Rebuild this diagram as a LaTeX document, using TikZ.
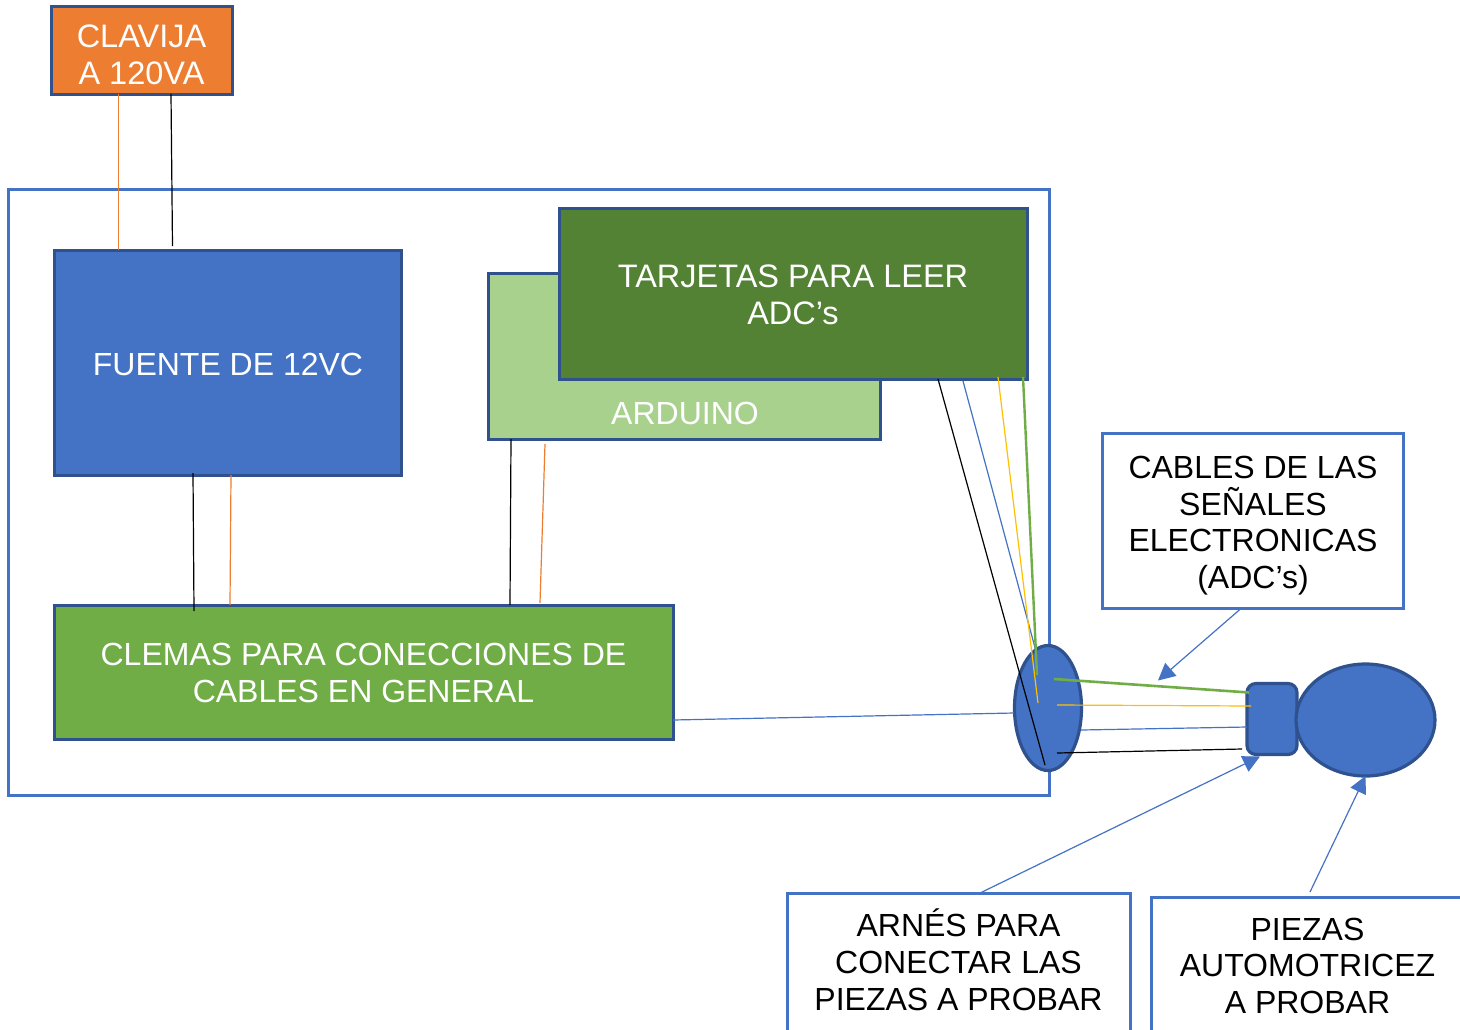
\documentclass[tikz,border=0pt]{standalone}
\usepackage{fontspec}
\setmainfont{Liberation Sans}
\usetikzlibrary{arrows.meta,shapes.geometric,calc}
\definecolor{bord}{HTML}{2F528F}
\definecolor{acc}{HTML}{4472C4}
\definecolor{orng}{HTML}{ED7D31}
\definecolor{lgreen}{HTML}{A9D18E}
\definecolor{dgreen}{HTML}{548235}
\definecolor{mgreen}{HTML}{70AD47}
\definecolor{ylw}{HTML}{FFC000}
\tikzset{
 x=1pt,y=-1pt,
 solidbox/.style={rectangle,draw=bord,line width=3pt,inner sep=0pt,outer sep=0pt},
 labelbox/.style={rectangle,draw=acc,line width=3pt,fill=white,inner sep=0pt,outer sep=0pt},
 whitetxt/.style={text=white,align=center,inner sep=0pt,font=\fontsize{32}{37}\selectfont},
 blacktxt/.style={text=black,align=center,inner sep=0pt,font=\fontsize{32}{36.7}\selectfont},
 wideface/.style={font=\fontsize{32.5}{37}\selectfont},
 shapeblue/.style={draw=bord,line width=3.2pt,fill=acc,inner sep=0pt,outer sep=0pt},
 wire/.style={line width=1.2pt},
 callout/.style={draw=acc,line width=1.2pt,-{Triangle[length=17pt,width=17pt]}},
}
\begin{document}
\begin{tikzpicture}[line join=miter]
\clip (0,0) rectangle (1460,1029);
\fill[white] (0,0) rectangle (1460,1029);
% outer frame
\node[draw=acc,line width=3pt,minimum width=1041pt,minimum height=606pt,inner sep=0pt,outer sep=0pt] (frame) at (528.5,492) {};
% boxes
\node[solidbox,fill=orng,minimum width=181pt,minimum height=88pt] (clavija) at (141.5,50) {};
\node[whitetxt,wideface] (clavijatxt) at (141.5,54.5) {CLAVIJA\\A 120VA};
\node[solidbox,fill=acc,minimum width=347pt,minimum height=225pt] (fuente) at (227.5,362.5) {};
\node[whitetxt] (fuentetxt) at (228,364) {FUENTE DE 12VC};
\node[solidbox,fill=lgreen,minimum width=392pt,minimum height=166pt] (arduino) at (684,356) {};
\node[whitetxt] (arduinotxt) at (685,413) {ARDUINO};
\node[solidbox,fill=dgreen,minimum width=468pt,minimum height=171pt] (tarjetas) at (793,293.5) {};
\node[whitetxt,wideface] (tarjetastxt) at (793,295) {TARJETAS PARA LEER\\ADC’s};
\node[solidbox,fill=mgreen,minimum width=619pt,minimum height=134pt] (clemas) at (363.5,672) {};
\node[whitetxt] (clemastxt) at (363.5,673) {CLEMAS PARA CONECCIONES DE\\CABLES EN GENERAL};
% shapes
\node[shapeblue,ellipse,minimum width=67pt,minimum height=125pt] (socket) at (1048,708) {};
\node[shapeblue,rounded corners=9pt,rectangle,minimum width=50pt,minimum height=71pt] (arnes) at (1272,719) {};
\node[shapeblue,ellipse,minimum width=139pt,minimum height=112pt] (pieza) at (1365.5,720) {};
% label boxes
\node[labelbox,minimum width=301pt,minimum height=175pt] (cables) at (1252.5,521) {};
\node[blacktxt] (cablestxt) at (1253,525.5) {CABLES DE LAS\\SEÑALES\\ELECTRONICAS\\(ADC’s)};
\node[labelbox,minimum width=343pt,minimum height=160pt,anchor=north west] (arnesbox) at (787,893) {};
\node[labelbox,minimum width=325pt,minimum height=160pt,anchor=north west] (piezasbox) at (1151,897) {};
\node[blacktxt,anchor=north] (arnestxt) at (958.5,909) {ARNÉS PARA\\CONECTAR LAS\\PIEZAS A PROBAR};
\node[blacktxt,anchor=north] (piezastxt) at (1307.5,917.5) {PIEZAS\\AUTOMOTRICEZ\\A PROBAR};
% wires
\draw[wire,orng] ([xshift=67.4pt]clavija.south west) -- ([xshift=64.4pt]fuente.north west);
\draw[wire,black] ([xshift=120pt]clavija.south west) -- ([xshift=118.5pt,yshift=4pt]fuente.north west);
\draw[wire,black] ([xshift=139pt,yshift=2pt]fuente.south west) -- ([xshift=140pt,yshift=-6pt]clemas.north west);
\draw[wire,orng] ([xshift=177pt]fuente.south west) -- ([xshift=176pt]clemas.north west);
\draw[wire,black] ([xshift=23pt]arduino.south west) -- ([xshift=456pt]clemas.north west);
\draw[wire,orng] ([xshift=57pt,yshift=-5pt]arduino.south west) -- ([xshift=486pt,yshift=2pt]clemas.north west);
\draw[wire,acc] ([yshift=19pt]clemas.south east) -- ($(socket.center)+(-34,5)$);
\draw[wire,black] ([xshift=379pt]tarjetas.south west) -- ($(socket.center)+(-3,57)$);
\draw[wire,acc] ([xshift=404pt,yshift=-2pt]tarjetas.south west) -- ($(socket.center)+(-11,-53)$);
\draw[wire,ylw] ([xshift=439pt,yshift=2pt]tarjetas.south west) -- ($(socket.center)+(-10,-5)$);
\draw[line width=2.4pt,mgreen] ([xshift=464pt,yshift=2pt]tarjetas.south west) -- ($(socket.center)+(-11,-33)$);
\draw[line width=2.6pt,mgreen] ($(socket.center)+(6,-29)$) -- ($(arnes.north west)+(2,9)$);
\draw[wire,ylw] ($(socket.center)+(9,-3)$) -- ($(arnes.west)+(4,-13)$);
\draw[wire,acc] ($(socket.center)+(33,22)$) -- ($(arnes.west)+(0,8)$);
\draw[wire,black] ($(socket.center)+(9,45)$) -- ($(arnes.west)+(-5,30)$);
% callouts
\draw[callout] ([xshift=139pt]cables.south west) -- ($(arnes.north west)+(-89,-3)$);
\draw[callout] ([xshift=191pt,yshift=-1pt]arnesbox.north west) -- ($(arnes.south west)+(13,2)$);
\draw[callout] ([xshift=159pt,yshift=5pt]piezasbox.north west) -- (pieza.south);
\end{tikzpicture}
\end{document}
